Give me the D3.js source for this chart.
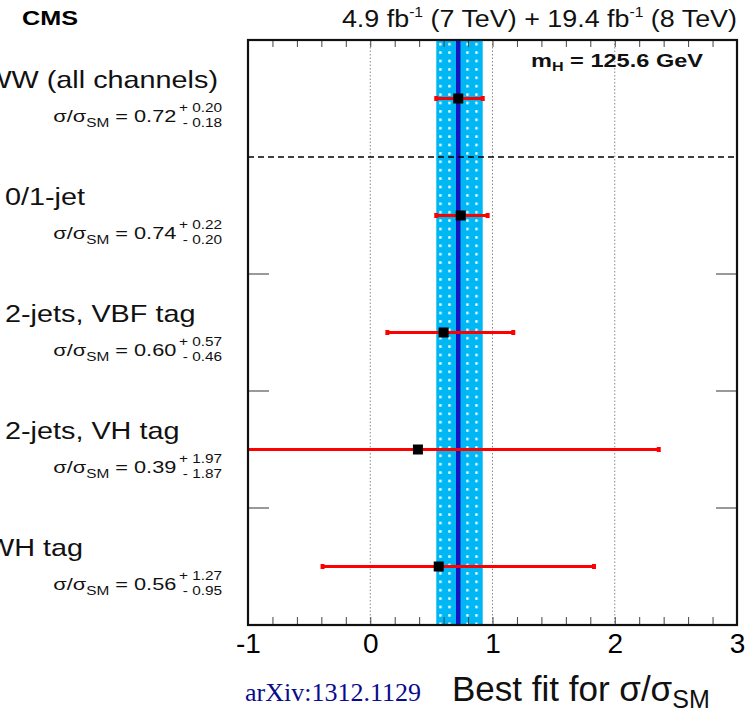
<!DOCTYPE html>
<html>
<head>
<meta charset="utf-8">
<script src="https://cdn.jsdelivr.net/npm/d3@7"></script>
<style>
body { margin: 0; background: #fff; }
</style>
</head>
<body>
<div id="chart"></div>
<script>
// channels, top to bottom
var categories = ["all", "jet01", "vbf", "vh", "wh"];
var labels = ["WW (all channels)", "0/1-jet", "2-jets, VBF tag", "2-jets, VH tag", "WH tag"];
var bestFit = [0.72, 0.74, 0.60, 0.39, 0.56];
var errUp = [0.20, 0.22, 0.57, 1.97, 1.27];
var errDown = [0.18, 0.20, 0.46, 1.87, 0.95];
var xTicks = [-1, 0, 1, 2, 3];
var xGrid = [0, 1, 2];
var xDomain = [-1, 3];

var W = 752, H = 713;
var margin = {top: 40, right: 15, bottom: 88, left: 248};
var fmt = d3.format(".2f");
var SANS = "'Liberation Sans', Arial, Helvetica, sans-serif";

var svg = d3.select("#chart").append("svg")
    .attr("width", W)
    .attr("height", H)
    .style("font-family", SANS);

var x = d3.scaleLinear().domain(xDomain).range([margin.left, W - margin.right]);
var y = d3.scaleBand().domain(categories).range([margin.top, H - margin.bottom]);

var plotL = x.range()[0], plotR = x.range()[1];
var plotT = y.range()[0], plotB = y.range()[1];

svg.append("clipPath").attr("id", "plotclip")
    .append("rect")
    .attr("x", plotL).attr("y", plotT)
    .attr("width", plotR - plotL).attr("height", plotB - plotT);

// dotted pattern for the combined band
var pat = svg.append("defs").append("pattern")
    .attr("id", "dots")
    .attr("patternUnits", "userSpaceOnUse")
    .attr("x", x(bestFit[0] - errDown[0]))
    .attr("y", plotT)
    .attr("width", 9)
    .attr("height", 8.4);
pat.append("rect").attr("width", 9).attr("height", 8.4).attr("fill", "#00b7f5");
pat.append("rect").attr("x", 3).attr("y", 3).attr("width", 2.4).attr("height", 2.4).attr("fill", "#fff");

var plot = svg.append("g").attr("clip-path", "url(#plotclip)");

// vertical dotted gridlines
plot.selectAll("line.grid")
    .data(xGrid)
    .enter().append("line")
    .attr("class", "grid")
    .attr("x1", function (d) { return x(d); })
    .attr("x2", function (d) { return x(d); })
    .attr("y1", plotT).attr("y2", plotB)
    .attr("stroke", "#888")
    .attr("stroke-width", 1)
    .attr("stroke-dasharray", "1.5,2");

// combined result band + central line
plot.append("rect")
    .attr("x", x(bestFit[0] - errDown[0]))
    .attr("y", plotT)
    .attr("width", x(bestFit[0] + errUp[0]) - x(bestFit[0] - errDown[0]))
    .attr("height", plotB - plotT)
    .attr("fill", "url(#dots)");

plot.append("line")
    .attr("x1", x(bestFit[0])).attr("x2", x(bestFit[0]))
    .attr("y1", plotT).attr("y2", plotB)
    .attr("stroke", "#1414c0")
    .attr("stroke-width", 4.5);

// separator between combined and per-channel results
plot.append("line")
    .attr("x1", plotL).attr("x2", plotR)
    .attr("y1", y(categories[1])).attr("y2", y(categories[1]))
    .attr("stroke", "#000")
    .attr("stroke-width", 1.6)
    .attr("stroke-dasharray", "6,4");

// error bars
var rows = categories.map(function (c, i) {
    return {cat: c, label: labels[i], v: bestFit[i], up: errUp[i], dn: errDown[i]};
});

var cy = function (d) { return y(d.cat) + y.bandwidth() / 2; };

plot.selectAll("line.err")
    .data(rows)
    .enter().append("line")
    .attr("class", "err")
    .attr("x1", function (d) { return x(d.v - d.dn); })
    .attr("x2", function (d) { return x(d.v + d.up); })
    .attr("y1", cy).attr("y2", cy)
    .attr("stroke", "#ff0000")
    .attr("stroke-width", 3);

rows.forEach(function (d) {
    [d.v - d.dn, d.v + d.up].forEach(function (e) {
        plot.append("rect")
            .attr("x", x(e) - 2).attr("y", cy(d) - 2.5)
            .attr("width", 4).attr("height", 5)
            .attr("fill", "#ff0000");
    });
});

plot.selectAll("rect.pt")
    .data(rows)
    .enter().append("rect")
    .attr("class", "pt")
    .attr("x", function (d) { return x(d.v) - 5; })
    .attr("y", function (d) { return cy(d) - 5; })
    .attr("width", 10).attr("height", 10)
    .attr("fill", "#000");

// y ticks at row boundaries (left and right)
var bounds = categories.slice(2);
bounds.forEach(function (c) {
    svg.append("line")
        .attr("x1", plotL).attr("x2", plotL + 21)
        .attr("y1", y(c)).attr("y2", y(c))
        .attr("stroke", "#555").attr("stroke-width", 1.2);
    svg.append("line")
        .attr("x1", plotR - 21).attr("x2", plotR)
        .attr("y1", y(c)).attr("y2", y(c))
        .attr("stroke", "#555").attr("stroke-width", 1.2);
});

// minor x ticks on top and bottom
var minor = d3.range(-1, 3.001, 0.2);
svg.append("g")
    .attr("transform", "translate(0," + plotB + ")")
    .call(d3.axisBottom(x).tickValues(minor).tickSize(-8).tickFormat(""))
    .call(function (g) {
        g.select(".domain").remove();
        g.selectAll("line").attr("stroke", "#444").attr("stroke-width", 1);
    });
svg.append("g")
    .attr("transform", "translate(0," + plotT + ")")
    .call(d3.axisTop(x).tickValues(minor).tickSize(-7).tickFormat(""))
    .call(function (g) {
        g.select(".domain").remove();
        g.selectAll("line").attr("stroke", "#444").attr("stroke-width", 1);
    });

// tick labels
svg.append("g")
    .attr("transform", "translate(0," + plotB + ")")
    .call(d3.axisBottom(x).tickValues(xTicks).tickSize(0).tickPadding(8).tickFormat(d3.format("d")))
    .call(function (g) {
        g.select(".domain").remove();
        g.selectAll("text")
            .attr("font-size", 28)
            .attr("fill", "#000")
            .style("font-family", SANS)
            .text(function (d) { return d < 0 ? "-" + Math.abs(d) : d; });
    });

// frame
svg.append("rect")
    .attr("x", plotL).attr("y", plotT)
    .attr("width", plotR - plotL).attr("height", plotB - plotT)
    .attr("fill", "none")
    .attr("stroke", "#111")
    .attr("stroke-width", 2.2);

// channel labels on the left
var labelAnchor = ["end", "start", "start", "start", "end"];
var labelPos = [218, 5, 5, 5, 83];
var sx = 1.2;

rows.forEach(function (d, i) {
    var g = svg.append("g")
        .attr("transform", "translate(" + labelPos[i] + "," + (cy(d) - 11) + ") scale(" + sx + ",1)");
    g.append("text")
        .attr("text-anchor", labelAnchor[i])
        .attr("font-size", 24)
        .attr("fill", "#111")
        .text(d.label);

    var s = svg.append("g")
        .attr("transform", "translate(222," + (cy(d) + 23) + ") scale(1.28,1)");
    var up = s.append("text")
        .attr("text-anchor", "end").attr("y", -10)
        .attr("font-size", 12).attr("fill", "#111")
        .text("+ " + fmt(d.up));
    var dn = s.append("text")
        .attr("text-anchor", "end").attr("y", 5)
        .attr("font-size", 12).attr("fill", "#111")
        .text("- " + fmt(d.dn));
    var w = Math.max(up.node().getComputedTextLength(), dn.node().getComputedTextLength());
    var t = s.append("text")
        .attr("text-anchor", "end").attr("x", -w - 2)
        .attr("font-size", 17).attr("fill", "#111");
    t.append("tspan").text("\u03c3/\u03c3");
    t.append("tspan").attr("font-size", 12).attr("dy", 5).text("SM");
    t.append("tspan").attr("dy", -5).text(" = " + fmt(d.v));
});

// header
svg.append("g").attr("transform", "translate(22,25) scale(1.2,1)")
    .append("text")
    .attr("font-size", 21).attr("font-weight", "bold")
    .text("CMS");

var lumi = svg.append("g").attr("transform", "translate(" + plotR + ",27) scale(1.12,1)")
    .append("text")
    .attr("text-anchor", "end")
    .attr("font-size", 24).attr("fill", "#111");
lumi.append("tspan").text("4.9 fb");
lumi.append("tspan").attr("font-size", 14).attr("dy", -10).text("-1");
lumi.append("tspan").attr("dy", 10).text(" (7 TeV) + 19.4 fb");
lumi.append("tspan").attr("font-size", 14).attr("dy", -10).text("-1");
lumi.append("tspan").attr("dy", 10).text(" (8 TeV)");

var mh = svg.append("g").attr("transform", "translate(531,67) scale(1.24,1)");
var mt = mh.append("text").attr("font-size", 19).attr("font-weight", "bold").attr("fill", "#111");
mt.append("tspan").text("m");
mt.append("tspan").attr("font-size", 13).attr("dy", 4).text("H");
mt.append("tspan").attr("dy", -4).text(" = 125.6 GeV");

// x axis title
var xt = svg.append("text")
    .attr("x", 452).attr("y", 701)
    .attr("font-size", 35).attr("fill", "#111");
xt.append("tspan").text("Best fit for \u03c3/\u03c3");
xt.append("tspan").attr("font-size", 25).attr("dy", 7).text("SM");

svg.append("text")
    .attr("x", 245).attr("y", 701)
    .style("font-family", "'Liberation Serif', 'Times New Roman', serif")
    .attr("font-size", 26)
    .attr("fill", "#0a0a8c")
    .text("arXiv:1312.1129");
</script>
</body>
</html>
